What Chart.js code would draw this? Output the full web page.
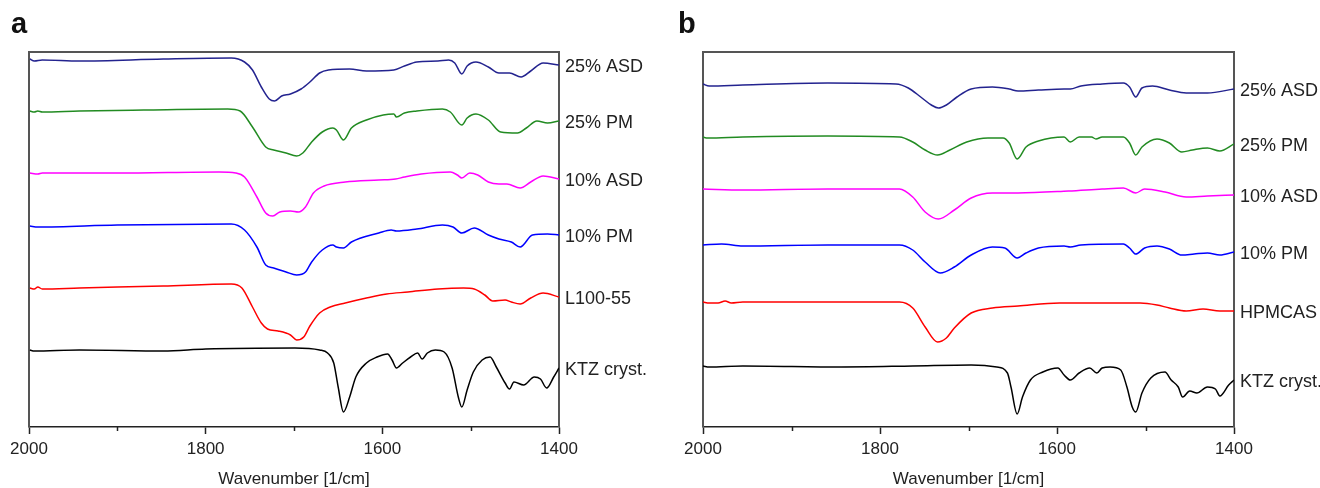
<!DOCTYPE html>
<html>
<head>
<meta charset="utf-8">
<script src="https://cdn.jsdelivr.net/npm/chart.js@4.4.1/dist/chart.umd.min.js"></script>
<style>
  body { margin: 0; background: #fff; }
  .panel { position: absolute; top: 0; width: 660px; height: 488px; }
  .tag { position: absolute; top: 7px; font: bold 29px "Liberation Sans", Arial, sans-serif; color: #111; }
</style>
</head>
<body>
<div class="panel" style="left:0"><canvas id="chartA"></canvas></div>
<div class="panel" style="left:660px"><canvas id="chartB"></canvas></div>
<div class="tag" style="left:11px">a</div>
<div class="tag" style="left:678px">b</div>
<script>
// x axis
var xTicks = [2000, 1800, 1600, 1400];
var xMinor = [1900, 1700, 1500];

// panel a: [wavenumber, intensity (arb. units, offset)]
var aAsd25 = [[1999,368],[1994,366],[1985,367],[1943,366],[1848,368],[1771,369],[1756,365],[1747,357],[1737,340],[1728,328],[1722,326],[1714,331],[1704,333],[1692,338],[1682,345],[1671,354],[1661,357],[1637,358],[1618,356],[1587,357],[1575,361],[1561,365],[1537,366],[1525,367],[1518,364],[1510,353],[1504,361],[1494,365],[1480,360],[1468,354],[1456,354],[1443,350],[1432,356],[1418,364],[1400,362]];
var aPm25 = [[1999,316],[1994,315],[1990,316],[1985,315],[1943,316],[1870,317],[1775,318],[1761,316],[1747,300],[1732,280],[1723,277],[1709,274],[1697,271],[1690,274],[1680,285],[1668,295],[1656,299],[1652,297],[1644,287],[1635,299],[1618,307],[1599,312],[1587,313],[1584,310],[1575,314],[1561,316],[1532,318],[1523,315],[1510,302],[1504,309],[1494,313],[1480,307],[1466,295],[1447,294],[1437,299],[1425,306],[1413,304],[1400,306]];
var aAsd10 = [[1999,254],[1990,253],[1985,254],[1900,254],[1785,255],[1766,254],[1756,250],[1742,230],[1732,214],[1724,211],[1716,215],[1704,216],[1695,215],[1687,220],[1678,234],[1666,241],[1642,245],[1604,247],[1585,248],[1575,250],[1556,253],[1523,255],[1515,252],[1510,249],[1501,254],[1492,252],[1480,245],[1468,243],[1459,243],[1444,239],[1432,245],[1418,251],[1400,248]];
var aPm10 = [[1999,201],[1990,200],[1900,202],[1771,203],[1756,197],[1742,180],[1732,162],[1723,159],[1709,155],[1697,152],[1687,155],[1680,165],[1668,177],[1656,182],[1652,180],[1644,179],[1635,185],[1604,194],[1590,197],[1584,196],[1561,198],[1532,202],[1520,200],[1510,194],[1496,199],[1480,192],[1468,188],[1454,185],[1444,180],[1430,192],[1413,193],[1400,192]];
var aL100 = [[1999,139],[1994,138],[1990,140],[1985,138],[1943,139],[1848,141],[1771,143],[1759,139],[1747,120],[1737,104],[1730,98],[1718,96],[1704,92],[1697,87],[1689,90],[1682,101],[1671,114],[1659,120],[1642,124],[1618,129],[1595,133],[1571,135],[1537,138],[1508,139],[1496,138],[1484,132],[1475,126],[1461,127],[1454,125],[1444,123],[1432,129],[1418,134],[1400,130]];
var aKtz = [[1999,77],[1994,76],[1943,77],[1848,76],[1800,78],[1699,79],[1671,77],[1662,74],[1655,64],[1650,40],[1644,15],[1637,30],[1630,50],[1618,64],[1606,70],[1594,73],[1589,67],[1584,59],[1577,64],[1568,70],[1560,74],[1555,68],[1549,74],[1540,77],[1530,75],[1521,59],[1514,30],[1510,20],[1504,37],[1497,55],[1487,67],[1478,70],[1471,60],[1461,44],[1456,38],[1451,45],[1440,42],[1428,50],[1421,48],[1414,39],[1406,50],[1400,59]];

// panel b
var bAsd25 = [[2000,343],[1993,341],[1955,342],[1859,344],[1782,343],[1768,339],[1754,330],[1742,322],[1734,319],[1725,322],[1713,330],[1697,338],[1673,340],[1654,338],[1644,336],[1621,337],[1592,338],[1585,338],[1573,341],[1549,343],[1525,344],[1518,340],[1511,330],[1504,339],[1492,341],[1473,337],[1454,334],[1430,334],[1400,338]];
var bPm25 = [[2000,290],[1995,289],[1955,290],[1859,291],[1778,290],[1763,285],[1749,277],[1735,272],[1721,277],[1702,285],[1678,289],[1661,289],[1654,284],[1645,268],[1635,280],[1621,286],[1592,290],[1585,285],[1575,290],[1561,290],[1556,288],[1549,290],[1525,290],[1518,284],[1511,272],[1504,280],[1487,288],[1473,284],[1459,275],[1447,277],[1430,279],[1416,276],[1400,283]];
var bAsd10 = [[2000,238],[1955,237],[1859,238],[1778,238],[1763,230],[1749,215],[1734,208],[1716,217],[1697,229],[1673,234],[1644,234],[1587,236],[1549,238],[1525,239],[1511,234],[1501,238],[1478,235],[1454,230],[1430,231],[1400,232]];
var bPm10 = [[2000,182],[1979,183],[1955,181],[1859,182],[1778,182],[1763,177],[1749,165],[1732,154],[1716,160],[1697,172],[1673,180],[1659,179],[1645,169],[1635,174],[1621,179],[1592,181],[1585,180],[1573,182],[1525,183],[1518,179],[1511,173],[1501,179],[1487,181],[1473,178],[1459,172],[1445,173],[1430,174],[1416,172],[1400,175]];
var bHpmcas = [[2000,125],[1993,124],[1983,124],[1975,126],[1968,124],[1955,125],[1859,125],[1778,125],[1763,119],[1749,100],[1735,85],[1725,89],[1716,99],[1697,114],[1673,119],[1644,121],[1597,124],[1549,124],[1506,124],[1487,122],[1473,119],[1454,116],[1435,118],[1416,116],[1400,116]];
var bKtz = [[2000,61],[1993,60],[1955,61],[1844,60],[1763,61],[1697,62],[1668,60],[1656,54],[1652,40],[1645,13],[1639,30],[1630,47],[1616,55],[1599,59],[1592,52],[1585,47],[1575,54],[1563,59],[1555,54],[1549,59],[1540,60],[1528,57],[1521,40],[1515,20],[1511,15],[1504,34],[1494,49],[1478,55],[1471,47],[1463,40],[1458,30],[1450,36],[1442,34],[1430,40],[1421,38],[1416,31],[1406,42],[1400,47]];

var colors = ['#23238f', '#228b22', '#ff00ff', '#0000ff', '#ff0000', '#000000'];
var labelsA = ['25% ASD', '25% PM', '10% ASD', '10% PM', 'L100-55', 'KTZ cryst.'];
var labelsB = ['25% ASD', '25% PM', '10% ASD', '10% PM', 'HPMCAS', 'KTZ cryst.'];
var seriesA = [aAsd25, aPm25, aAsd10, aPm10, aL100, aKtz];
var seriesB = [bAsd25, bPm25, bAsd10, bPm10, bHpmcas, bKtz];

var FONT = '"Liberation Sans", Arial, sans-serif';

var framePlugin = {
  id: 'frame',
  beforeDatasetsDraw(chart) {
    var a = chart.chartArea, c = chart.ctx;
    c.save();
    c.strokeStyle = '#555';
    c.lineWidth = 2;
    c.beginPath();
    c.moveTo(a.left, a.bottom);
    c.lineTo(a.left, a.top);
    c.lineTo(a.right, a.top);
    c.lineTo(a.right, a.bottom);
    c.stroke();
    // minor ticks
    var x = chart.scales.x;
    c.strokeStyle = '#222';
    c.lineWidth = 1.5;
    xMinor.forEach(function (v) {
      var px = Math.round(x.getPixelForValue(v)) + 0.5;
      c.beginPath();
      c.moveTo(px, a.bottom);
      c.lineTo(px, a.bottom + 4);
      c.stroke();
    });
    c.restore();
  },
  afterDatasetsDraw(chart) {
    var c = chart.ctx, a = chart.chartArea;
    c.save();
    c.font = '18px ' + FONT;
    c.fillStyle = '#222';
    c.textBaseline = 'middle';
    chart.data.datasets.forEach(function (ds, i) {
      var pts = chart.getDatasetMeta(i).data;
      var last = pts[pts.length - 1];
      c.fillText(ds.label, a.right + 6, last.y + 2);
    });
    c.restore();
  }
};

function makeChart(id, labels, series, padLeft, padRight) {
  return new Chart(document.getElementById(id), {
    type: 'line',
    data: {
      datasets: series.map(function (s, i) {
        return {
          label: labels[i],
          data: s.map(function (p) { return { x: p[0], y: p[1] }; }),
          borderColor: colors[i],
          borderWidth: 1.5,
          pointRadius: 0,
          cubicInterpolationMode: 'monotone',
          fill: false
        };
      })
    },
    options: {
      responsive: true,
      maintainAspectRatio: false,
      animation: false,
      layout: { padding: { left: padLeft, right: padRight, top: 52, bottom: 0 } },
      plugins: { legend: { display: false }, tooltip: { enabled: false } },
      scales: {
        x: {
          type: 'linear',
          reverse: true,
          min: 1400,
          max: 2000,
          afterBuildTicks: function (scale) {
            scale.ticks = xTicks.map(function (v) { return { value: v }; });
          },
          afterFit: function (scale) { scale.height = 61; },
          grid: { drawOnChartArea: false, tickLength: 7, tickColor: '#222', tickWidth: 1.5 },
          border: { color: '#222', width: 1.5 },
          ticks: {
            font: { size: 17, family: FONT }, color: '#222', padding: 5, maxRotation: 0,
            callback: function (v) { return String(v); }
          },
          title: {
            display: true,
            text: 'Wavenumber [1/cm]',
            font: { size: 17, family: FONT, lineHeight: 1 },
            color: '#222',
            padding: { top: 0, bottom: 0 }
          }
        },
        y: { display: false, min: 0, max: 375 }
      }
    },
    plugins: [framePlugin]
  });
}

makeChart('chartA', labelsA, seriesA, 29, 101);
makeChart('chartB', labelsB, seriesB, 43, 86);
</script>
</body>
</html>
